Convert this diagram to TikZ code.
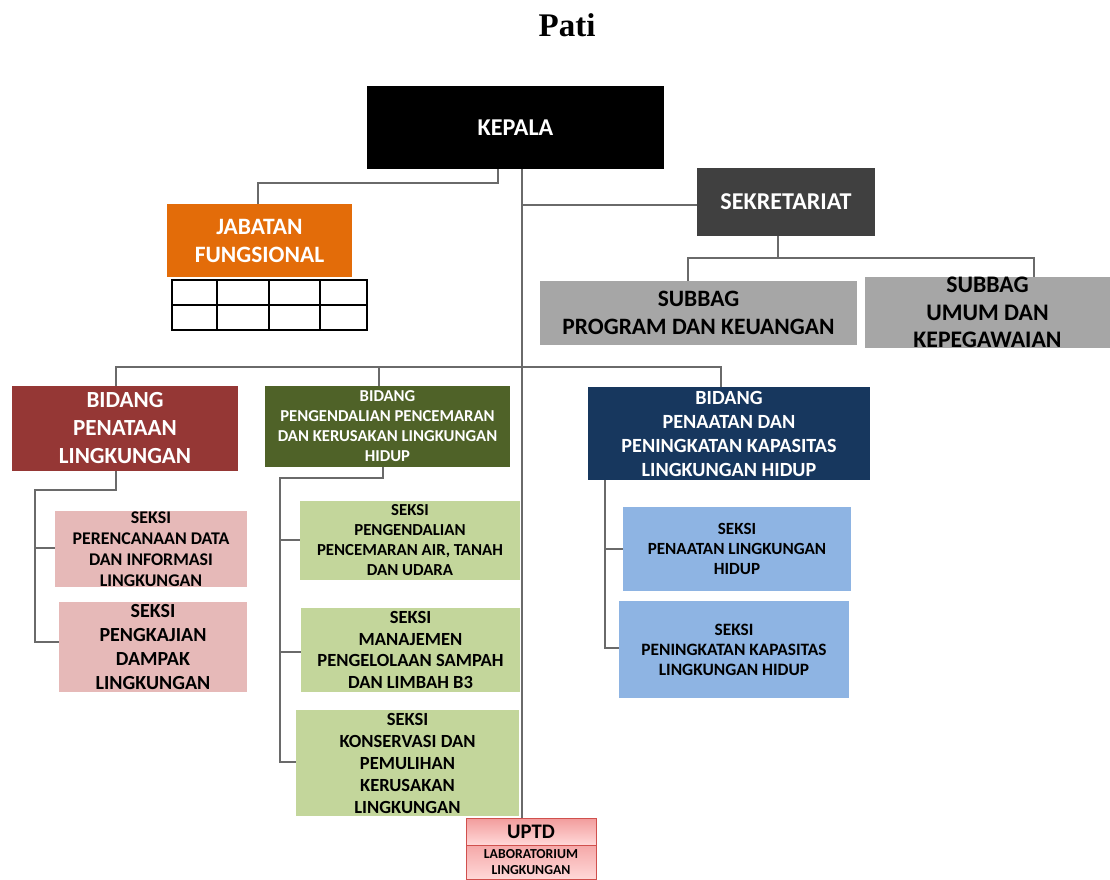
\documentclass[tikz,border=0pt]{standalone}
\usepackage{fontspec}
\setmainfont{Carlito}
\newfontfamily\titlefont{Liberation Serif}
\newlength{\PX}
\setlength{\PX}{0.75pt}
\definecolor{cOrange}{HTML}{E36C09}
\definecolor{cDark}{HTML}{404040}
\definecolor{cSub}{HTML}{A6A6A6}
\definecolor{cRed}{HTML}{953735}
\definecolor{cGreen}{HTML}{4F6228}
\definecolor{cNavy}{HTML}{17375E}
\definecolor{cPink}{HTML}{E6B9B8}
\definecolor{cLGreen}{HTML}{C3D69B}
\definecolor{cLBlue}{HTML}{8EB4E3}
\definecolor{cLine}{HTML}{6A6A6A}
\definecolor{cUTop}{HTML}{F29C9C}
\definecolor{cUBot}{HTML}{FFD8D8}
\definecolor{cUBorder}{HTML}{D0504D}
\tikzset{
  box/.style={inner sep=0pt, outer sep=0pt, align=center, font=\bfseries},
  conn/.style={draw=cLine, line width=1.5\PX},
}
\begin{document}
\begin{tikzpicture}[x=0.75pt,y=-0.75pt]
\useasboundingbox (0,0) rectangle (1110,880);
% title
\node[inner sep=0pt, font=\titlefont\bfseries\fontsize{24.75}{28}\selectfont] (title) at (567,25) {Pati};

% nodes
\node[box, fill=black, text=white, minimum width=297\PX, minimum height=83\PX, font=\bfseries\fontsize{18.1}{20}\selectfont] (kepala) at (515.5,127.5) {KEPALA};
\node[box, fill=cOrange, text=white, minimum width=185\PX, minimum height=73\PX, font=\bfseries\fontsize{17.6}{21}\selectfont] (jab) at (259.5,241) {JABATAN\\FUNGSIONAL};
\node[box, fill=cDark, text=white, minimum width=178\PX, minimum height=68\PX, font=\bfseries\fontsize{18.1}{20}\selectfont] (sek) at (786,202) {SEKRETARIAT};
\node[box, fill=cSub, text=black, minimum width=317\PX, minimum height=64\PX, font=\bfseries\fontsize{17.6}{21}\selectfont] (sub1) at (698.5,313) {SUBBAG\\PROGRAM DAN KEUANGAN};
\node[box, fill=cSub, text=black, minimum width=245\PX, minimum height=71\PX, font=\bfseries\fontsize{17.8}{20.6}\selectfont] (sub2) at (987.5,312.5) {SUBBAG\\UMUM DAN\\KEPEGAWAIAN};

\node[box, fill=cRed, text=white, minimum width=226\PX, minimum height=85\PX, font=\bfseries\fontsize{17.3}{21}\selectfont] (bid1) at (125,428.5) {BIDANG\\PENATAAN\\LINGKUNGAN};
\node[box, fill=cGreen, text=white, minimum width=245\PX, minimum height=81\PX, font=\bfseries\fontsize{12.5}{15}\selectfont] (bid2) at (387.5,426.5) {BIDANG\\PENGENDALIAN PENCEMARAN\\DAN KERUSAKAN LINGKUNGAN\\HIDUP};
\node[box, fill=cNavy, text=white, minimum width=282\PX, minimum height=93\PX, font=\bfseries\fontsize{15.1}{18}\selectfont] (bid3) at (729,433.5) {BIDANG\\PENAATAN DAN\\PENINGKATAN KAPASITAS\\LINGKUNGAN HIDUP};

\node[box, fill=cPink, text=black, minimum width=192\PX, minimum height=76\PX, font=\bfseries\fontsize{13.4}{15.75}\selectfont] (s11) at (151,549) {SEKSI\\PERENCANAAN DATA\\DAN INFORMASI\\LINGKUNGAN};
\node[box, fill=cPink, text=black, minimum width=188\PX, minimum height=90\PX, font=\bfseries\fontsize{15}{18}\selectfont] (s12) at (153,647) {SEKSI\\PENGKAJIAN\\DAMPAK\\LINGKUNGAN};

\node[box, fill=cLGreen, text=black, minimum width=220\PX, minimum height=79\PX, font=\bfseries\fontsize{12.6}{15}\selectfont] (s21) at (410,540.5) {SEKSI\\PENGENDALIAN\\PENCEMARAN AIR, TANAH\\DAN UDARA};
\node[box, fill=cLGreen, text=black, minimum width=219\PX, minimum height=84\PX, font=\bfseries\fontsize{13.9}{16.3}\selectfont] (s22) at (410.5,650) {SEKSI\\MANAJEMEN\\PENGELOLAAN SAMPAH\\DAN LIMBAH B3};
\node[box, fill=cLGreen, text=black, minimum width=223\PX, minimum height=106\PX, font=\bfseries\fontsize{13.9}{16.5}\selectfont] (s23) at (407.5,763) {SEKSI\\KONSERVASI DAN\\PEMULIHAN\\KERUSAKAN\\LINGKUNGAN};

\node[box, fill=cLBlue, text=black, minimum width=228\PX, minimum height=84\PX, font=\bfseries\fontsize{12.8}{15}\selectfont] (s31) at (737,549) {SEKSI\\PENAATAN LINGKUNGAN\\HIDUP};
\node[box, fill=cLBlue, text=black, minimum width=230\PX, minimum height=97\PX, font=\bfseries\fontsize{13}{15}\selectfont] (s32) at (734,649.5) {SEKSI\\PENINGKATAN KAPASITAS\\LINGKUNGAN HIDUP};

\node[box, top color=cUTop, bottom color=cUBot, draw=cUBorder, line width=1\PX, minimum width=130\PX, minimum height=27\PX, font=\bfseries\fontsize{15.5}{16}\selectfont] (uptd) at (531,831.5) {UPTD};
\node[box, top color=cUTop!80!cUBot, bottom color=cUBot, draw=cUBorder, line width=1\PX, minimum width=130\PX, minimum height=34\PX, font=\bfseries\fontsize{10.3}{12}\selectfont, anchor=north] (lab) at (uptd.south) {LABORATORIUM\\LINGKUNGAN};

% table under Jabatan Fungsional
\draw[black, line width=1.5\PX] (172,280) rectangle (367,330);
\draw[black, line width=1.5\PX] (172,305) -- (367,305);
\foreach \xx in {217,269,320} \draw[black, line width=1.5\PX] (\xx,280) -- (\xx,330);

% connectors
\draw[conn] (kepala.south -| 498,0) -- (498,183) -- (258,183) -- (jab.north -| 258,0);
\draw[conn] (kepala.south -| 522,0) -- (uptd.north -| 522,0);
\coordinate (tsek) at (522,205);
\draw[conn] (tsek) -- (sek.west |- tsek);
\coordinate (sbar) at (778,258);
\draw[conn] (sek.south -| sbar) -- (sbar);
\draw[conn] (sub1.north -| 688,0) -- (688,258) -- (1034,258) -- (sub2.north -| 1034,0);

\draw[conn] (bid1.north -| 116,0) -- (116,367) -- (721,367) -- (bid3.north -| 721,0);
\draw[conn] (379,367) -- (bid2.north -| 379,0);

\draw[conn] (bid1.south -| 116,0) -- (116,490) -- (35,490) -- (35,642) -- (s12.west |- 0,642);
\draw[conn] (35,548) -- (s11.west |- 0,548);

\draw[conn] (bid2.south -| 383,0) -- (383,478) -- (280,478) -- (280,762) -- (s23.west |- 0,762);
\draw[conn] (280,540) -- (s21.west |- 0,540);
\draw[conn] (280,652) -- (s22.west |- 0,652);

\draw[conn] (bid3.south -| 605,0) -- (605,648) -- (s32.west |- 0,648);
\draw[conn] (605,549) -- (s31.west |- 0,549);
\end{tikzpicture}
\end{document}
